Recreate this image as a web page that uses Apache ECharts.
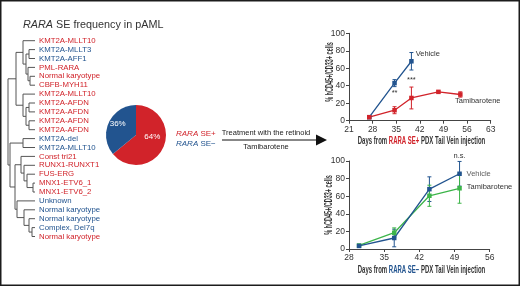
<!DOCTYPE html>
<html>
<head>
<meta charset="utf-8">
<script src="https://cdn.jsdelivr.net/npm/echarts@6/dist/echarts.min.js"></script>
<style>
  html, body { margin: 0; padding: 0; background: #fff; }
  #chart { width: 520px; height: 286px; }
</style>
</head>
<body>
<div id="chart"></div>
<script>
const RED = '#d1232a';
const BLUE = '#22548f';
const GREEN = '#3db54a';
const INK = '#333';
const FONT = "'Liberation Sans', Arial, sans-serif";

// dendrogram leaves, top to bottom, with RARA SE status
const leafNames = [
  'KMT2A-MLLT10', 'KMT2A-MLLT3', 'KMT2A-AFF1', 'PML-RARA', 'Normal karyotype',
  'CBFB-MYH11', 'KMT2A-MLLT10', 'KMT2A-AFDN', 'KMT2A-AFDN', 'KMT2A-AFDN',
  'KMT2A-AFDN', 'KMT2A-del', 'KMT2A-MLLT10', 'Const tri21', 'RUNX1-RUNXT1',
  'FUS-ERG', 'MNX1-ETV6_1', 'MNX1-ETV6_2', 'Unknown', 'Normal karyotype',
  'Normal karyotype', 'Complex, Del7q', 'Normal karyotype'
];
const leafSE = [
  '+', '-', '-', '+', '+', '+', '+', '+', '+', '+', '+', '-', '-',
  '+', '+', '+', '+', '+', '-', '-', '-', '-', '+'
];
// merges: [childA, childB, height]; ids >= 23 point to earlier merges
const merges = [
  [4, 5, 5], [3, 23, 7], [1, 2, 6], [25, 24, 9], [0, 26, 12],
  [7, 8, 6], [9, 10, 6], [28, 29, 9], [6, 30, 12], [27, 31, 19],
  [11, 12, 12],
  [16, 17, 2], [15, 34, 8], [14, 35, 11], [13, 36, 14],
  [21, 22, 3], [20, 38, 6], [19, 39, 11], [18, 40, 18],
  [37, 41, 20], [33, 42, 25], [32, 43, 27]
];

const pieNames = ['RARA SE+', 'RARA SE\u2212'];
const pieValues = [64, 36];

// RARA SE+ PDX
const daysPos = [27, 34.5, 39.5, 47.5, 54];
const posVehicle = [4, 43, 68];
const posVehicleErr = [1, 4, 10];
const posTami = [4, 12, 26, 33, 30];
const posTamiErr = [1, 4, 12.5, 1, 3];

// RARA SE- PDX
const daysNeg = [30, 37, 44, 50];
const negVehicle = [3.5, 12.5, 68, 85.5];
const negVehicleErr = [0.5, 10, 14, 14];
const negTami = [4, 18.5, 60.5, 69];
const negTamiErr = [1, 5.5, 12, 17];

const pctTicks = { min: 0, max: 100, interval: 20 };

// dendrogram node layout
const nodeY = leafNames.map((_, i) => i);
const nodeH = leafNames.map(() => 0);
const dendroData = merges.map(([a, b, h]) => {
  const row = [nodeH[a], nodeY[a], nodeH[b], nodeY[b], h];
  nodeY.push((nodeY[a] + nodeY[b]) / 2);
  nodeH.push(h);
  return row;
});

const pairs = (xs, ys) => ys.map((v, i) => [xs[i], v]);
const bars = (xs, ys, es) => ys.map((v, i) => [xs[i], v - es[i], v + es[i]]);

function renderBranch(params, api) {
  const a = api.coord([api.value(0), api.value(1)]);
  const a2 = api.coord([api.value(4), api.value(1)]);
  const b2 = api.coord([api.value(4), api.value(3)]);
  const b = api.coord([api.value(2), api.value(3)]);
  return {
    type: 'polyline',
    shape: { points: [a, a2, b2, b] },
    style: { stroke: '#555', lineWidth: 1, fill: null }
  };
}

function renderErr(params, api) {
  const lo = api.coord([api.value(0), api.value(1)]);
  const hi = api.coord([api.value(0), api.value(2)]);
  const c = api.visual('color');
  const w = 2;
  const st = { stroke: c, lineWidth: 1 };
  return {
    type: 'group',
    children: [
      { type: 'line', shape: { x1: lo[0], y1: lo[1], x2: hi[0], y2: hi[1] }, style: st },
      { type: 'line', shape: { x1: lo[0] - w, y1: lo[1], x2: lo[0] + w, y2: lo[1] }, style: st },
      { type: 'line', shape: { x1: hi[0] - w, y1: hi[1], x2: hi[0] + w, y2: hi[1] }, style: st }
    ]
  };
}

const axisLineStyle = { lineStyle: { color: '#444', width: 1 } };
const tickLabel = { color: INK, fontSize: 8.5, fontFamily: FONT };

function daysAxis(gridIndex, min, max) {
  return {
    type: 'value', gridIndex, min, max, interval: 7,
    axisLine: axisLineStyle,
    axisTick: { show: true, length: 3, lineStyle: { color: '#444' } },
    splitLine: { show: false },
    axisLabel: Object.assign({ margin: 4 }, tickLabel)
  };
}

function pctAxis(gridIndex) {
  return {
    type: 'value', gridIndex, min: pctTicks.min, max: pctTicks.max, interval: pctTicks.interval,
    axisLine: Object.assign({ show: true }, axisLineStyle),
    axisTick: { show: true, length: 3, lineStyle: { color: '#444' } },
    splitLine: { show: false },
    axisLabel: Object.assign({ margin: 4 }, tickLabel)
  };
}

// condensed axis titles: a squeezed bold face, like the figure's
function axisTitle(x, y, text, rotated, seColor) {
  const base = { fontSize: 10, fontWeight: 'bold', fontFamily: FONT };
  return {
    type: 'text', x, y, scaleX: rotated ? 0.55 : 0.6,
    rotation: rotated ? Math.PI / 2 : 0,
    style: Object.assign({
      text, fill: INK, align: 'center', verticalAlign: 'middle',
      rich: { se: Object.assign({ fill: seColor }, base) }
    }, base),
    silent: true
  };
}

function lineSeries(name, xi, data, color, labels) {
  return {
    type: 'line', name, xAxisIndex: xi, yAxisIndex: xi,
    data: data.map((d, i) => labels && labels[i] ? { value: d, label: labels[i] } : d),
    symbol: 'rect', symbolSize: 4.5,
    lineStyle: { color, width: 1.3 },
    itemStyle: { color },
    label: { show: false },
    z: 3
  };
}

const noteStyle = { show: true, color: INK, fontSize: 7.5, fontFamily: FONT };
const note = (text, extra) => Object.assign({}, noteStyle, { formatter: text }, extra);

const chart = echarts.init(document.getElementById('chart'), null, { renderer: 'canvas' });

chart.setOption({
  animation: false,
  grid: [
    { left: 8, width: 27, top: 40.7, height: 195.8 },
    { left: 349, width: 141.7, top: 33.3, height: 87.4 },
    { left: 349, width: 140.7, top: 161, height: 88 }
  ],
  xAxis: [
    { type: 'value', gridIndex: 0, min: 0, max: 27, inverse: true, show: false },
    daysAxis(1, 21, 63),
    daysAxis(2, 28, 56)
  ],
  yAxis: [
    {
      type: 'value', gridIndex: 0, min: 0, max: leafNames.length - 1, interval: 1,
      inverse: true, position: 'right',
      axisLine: { show: false }, axisTick: { show: false }, splitLine: { show: false },
      axisLabel: {
        margin: 4, fontSize: 7.8, fontFamily: FONT,
        formatter: v => '{' + (leafSE[v] === '+' ? 'p' : 'n') + '|' + leafNames[v] + '}',
        rich: {
          p: { color: RED, fontSize: 7.8, fontFamily: FONT },
          n: { color: BLUE, fontSize: 7.8, fontFamily: FONT }
        }
      }
    },
    pctAxis(1),
    pctAxis(2)
  ],
  series: [
    {
      type: 'custom', xAxisIndex: 0, yAxisIndex: 0,
      renderItem: renderBranch, data: dendroData,
      encode: { x: [0, 2, 4], y: [1, 3] }, silent: true
    },
    {
      type: 'pie', center: [136, 135], radius: 30, startAngle: 90,
      data: pieNames.map((n, i) => ({
        name: n, value: pieValues[i],
        itemStyle: { color: i === 0 ? RED : BLUE },
        label: { offset: i === 0 ? [0, -6] : [-2, -4] }
      })),
      label: {
        position: 'inside', formatter: '{c}%', color: '#fff',
        fontSize: 8, fontFamily: FONT
      },
      labelLine: { show: false }
    },
    // RARA SE+ panel
    {
      type: 'custom', xAxisIndex: 1, yAxisIndex: 1, renderItem: renderErr,
      itemStyle: { color: BLUE }, data: bars(daysPos, posVehicle, posVehicleErr),
      encode: { x: 0, y: [1, 2] }, z: 2
    },
    {
      type: 'custom', xAxisIndex: 1, yAxisIndex: 1, renderItem: renderErr,
      itemStyle: { color: RED }, data: bars(daysPos, posTami, posTamiErr),
      encode: { x: 0, y: [1, 2] }, z: 2
    },
    lineSeries('Vehicle', 1, pairs(daysPos, posVehicle), BLUE,
      [null, null, note('Vehicle', { position: 'right', distance: 2, offset: [0, -7] })]),
    lineSeries('Tamibarotene', 1, pairs(daysPos, posTami), RED, [
      null,
      note('**', { position: 'top', distance: 11 }),
      note('***', { position: 'top', distance: 11.5 }),
      null,
      note('Tamibarotene', { position: [-3, 5] })
    ]),
    // RARA SE- panel
    {
      type: 'custom', xAxisIndex: 2, yAxisIndex: 2, renderItem: renderErr,
      itemStyle: { color: BLUE }, data: bars(daysNeg, negVehicle, negVehicleErr),
      encode: { x: 0, y: [1, 2] }, z: 2
    },
    {
      type: 'custom', xAxisIndex: 2, yAxisIndex: 2, renderItem: renderErr,
      itemStyle: { color: GREEN }, data: bars(daysNeg, negTami, negTamiErr),
      encode: { x: 0, y: [1, 2] }, z: 2
    },
    lineSeries('Tamibarotene', 2, pairs(daysNeg, negTami), GREEN,
      [null, null, null, note('Tamibarotene', { position: 'right', distance: 5, offset: [0, -1.5] })]),
    lineSeries('Vehicle', 2, pairs(daysNeg, negVehicle), BLUE, [
      null, null, null,
      note('n.s.', { position: 'top', distance: 12 })
    ]),
    {
      type: 'scatter', xAxisIndex: 2, yAxisIndex: 2, silent: true,
      data: [pairs(daysNeg, negVehicle)[3]], symbolSize: 0,
      label: note('Vehicle', { position: 'right', distance: 7 })
    }
  ],
  graphic: [
    {
      type: 'rect', shape: { x: 0.75, y: 0.75, width: 518.5, height: 284.5 },
      style: { fill: null, stroke: '#1c1c1c', lineWidth: 1.5 }, silent: true
    },
    {
      type: 'text', x: 23, y: 25,
      style: {
        text: '{i|RARA} SE frequency in pAML', fill: INK, fontSize: 10.8, fontFamily: FONT,
        verticalAlign: 'middle',
        rich: { i: { fontStyle: 'italic', fontSize: 10.8, fontFamily: FONT, fill: INK } }
      }
    },
    {
      type: 'text', x: 176, y: 134,
      style: {
        text: '{i|RARA} SE+', fill: RED, fontSize: 8, fontFamily: FONT, verticalAlign: 'middle',
        rich: { i: { fontStyle: 'italic', fontSize: 8, fontFamily: FONT, fill: RED } }
      }
    },
    {
      type: 'text', x: 176, y: 144,
      style: {
        text: '{i|RARA} SE\u2212', fill: BLUE, fontSize: 8, fontFamily: FONT, verticalAlign: 'middle',
        rich: { i: { fontStyle: 'italic', fontSize: 8, fontFamily: FONT, fill: BLUE } }
      }
    },
    {
      type: 'line', shape: { x1: 222, y1: 140, x2: 318, y2: 140 },
      style: { stroke: '#111', lineWidth: 1 }
    },
    {
      type: 'polygon', shape: { points: [[316, 134.5], [327, 140], [316, 145.5]] },
      style: { fill: '#111' }
    },
    {
      type: 'text', x: 266, y: 133,
      style: { text: 'Treatment with the retinoid', fill: '#222', fontSize: 7.5, fontFamily: FONT, align: 'center', verticalAlign: 'middle' }
    },
    {
      type: 'text', x: 266, y: 146.5,
      style: { text: 'Tamibarotene', fill: '#222', fontSize: 7.5, fontFamily: FONT, align: 'center', verticalAlign: 'middle' }
    },
    axisTitle(421.5, 141.7, 'Days from {se|RARA SE+} PDX Tail Vein injection', false, RED),
    axisTitle(421.5, 270, 'Days from {se|RARA SE\u2212} PDX Tail Vein injection', false, BLUE),
    axisTitle(330, 72, '% hCD45+/CD33+ cells', true),
    axisTitle(329, 205, '% hCD45+/CD33+ cells', true)
  ]
});
</script>
</body>
</html>
